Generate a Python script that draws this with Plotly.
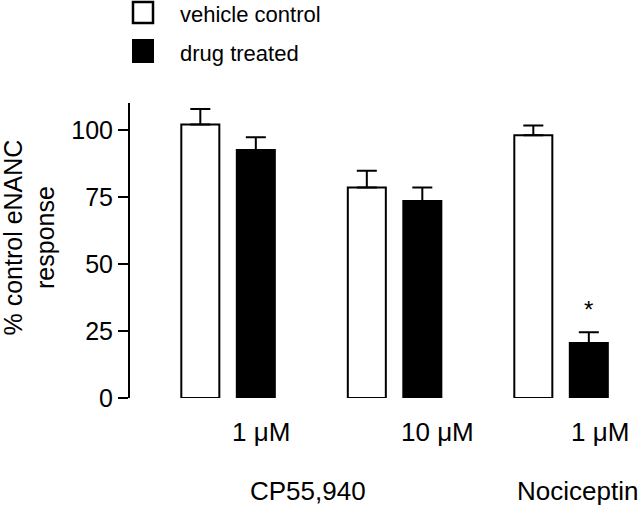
import plotly.graph_objects as go

# ---- data ----
groups = [0, 1, 2]
dose_labels = ["1 μM", "10 μM", "1 μM"]
dose_label_x = [0.2, 1.255, 2.234]
drug_labels = ["CP55,940", "Nociceptin"]
drug_label_x = [0.48, 2.1]
vehicle = [102.0, 78.5, 98.0]
vehicle_err = [5.8, 6.2, 3.6]
treated = [92.5, 73.5, 20.5]
treated_err = [4.7, 5.0, 4.0]
y_ticks = [0, 25, 50, 75, 100]
significant = [False, False, True]

FONT = "Liberation Sans, Arial, sans-serif"

# plot area in page pixels (reference): x 130..630, y 103..398
PW, PH = 500, 295
X0, YB = 130, 398


def px(x):
    return (x - X0) / PW


def py(y):
    return (YB - y) / PH


fig = go.Figure()
fig.add_trace(go.Bar(
    x=groups, y=vehicle, name="vehicle control",
    marker=dict(color="white", line=dict(color="black", width=2)),
    error_y=dict(type="data", symmetric=False, array=vehicle_err,
                 arrayminus=[0] * len(vehicle), color="black", thickness=2, width=10),
    showlegend=False,
))
fig.add_trace(go.Bar(
    x=groups, y=treated, name="drug treated",
    marker=dict(color="black", line=dict(color="black", width=2)),
    error_y=dict(type="data", symmetric=False, array=treated_err,
                 arrayminus=[0] * len(treated), color="black", thickness=2, width=10),
    showlegend=False,
))

annotations = []
for xx, lab in zip(dose_label_x, dose_labels):
    annotations.append(dict(x=xx, y=py(432), xref="x", yref="paper", text=lab,
                            showarrow=False, font=dict(size=26, color="black", family=FONT),
                            xanchor="center", yanchor="middle"))
for xx, lab in zip(drug_label_x, drug_labels):
    annotations.append(dict(x=xx, y=py(491), xref="x", yref="paper", text=lab,
                            showarrow=False, font=dict(size=26, color="black", family=FONT),
                            xanchor="center", yanchor="middle"))
for g, s, v, e in zip(groups, significant, treated, treated_err):
    if s:
        annotations.append(dict(x=g + 1 / 6, y=v + e + 8.5, xref="x", yref="y", text="*",
                                showarrow=False, font=dict(size=24, color="black", family=FONT),
                                xanchor="center", yanchor="middle"))
annotations.append(dict(x=px(28.5), y=py(238), xref="paper", yref="paper",
                        text="% control eNANC<br>response", textangle=-90, showarrow=False,
                        font=dict(size=25, color="black", family=FONT),
                        xanchor="center", yanchor="middle"))
annotations.append(dict(x=px(178), y=py(14), xref="paper", yref="paper",
                        text="vehicle control", showarrow=False,
                        font=dict(size=22, color="black", family=FONT),
                        xanchor="left", yanchor="middle"))
annotations.append(dict(x=px(178), y=py(53), xref="paper", yref="paper",
                        text="drug treated", showarrow=False,
                        font=dict(size=22, color="black", family=FONT),
                        xanchor="left", yanchor="middle"))

shapes = [
    dict(type="rect", xref="paper", yref="paper",
         x0=px(133), x1=px(153), y0=py(2), y1=py(23),
         fillcolor="white", line=dict(color="black", width=2.5)),
    dict(type="rect", xref="paper", yref="paper",
         x0=px(132), x1=px(154), y0=py(39), y1=py(63),
         fillcolor="black", line=dict(color="black", width=0)),
]

fig.update_layout(
    width=640, height=505,
    margin=dict(l=X0, r=640 - X0 - PW, t=YB - PH, b=505 - YB, autoexpand=False),
    paper_bgcolor="white", plot_bgcolor="white",
    barmode="group", bargap=1 / 3, bargroupgap=0.315,
    font=dict(family=FONT, color="black"),
    annotations=annotations, shapes=shapes,
    xaxis=dict(range=[-0.589, 2.414], showline=False, showticklabels=False,
               ticks="", showgrid=False, zeroline=False),
    yaxis=dict(range=[0, 110], showline=True, linecolor="black", linewidth=2,
               ticks="outside", ticklen=10, tickwidth=2, tickcolor="black",
               tickvals=y_ticks, tickfont=dict(size=25, family=FONT, color="black"),
               showgrid=False, zeroline=False),
)

fig.write_html("out.html", config={"displayModeBar": False},
               post_script="document.body.style.margin='0';")
